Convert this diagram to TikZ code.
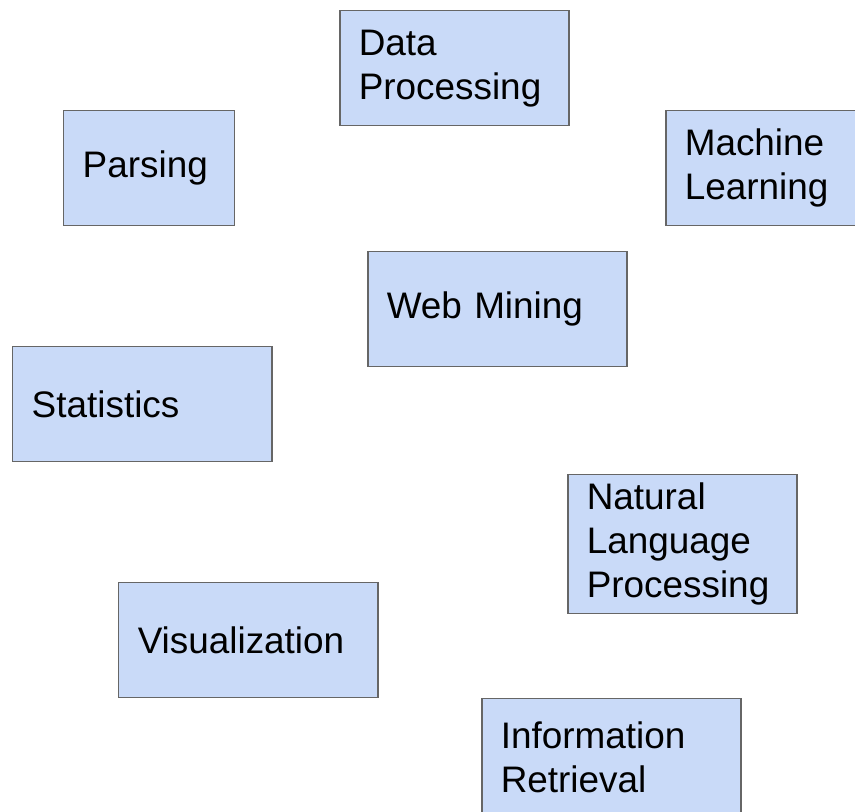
\documentclass[tikz,border=0pt]{standalone}
\usepackage{fontspec}
\setmainfont{Liberation Sans}
\usepackage{tikz}
\usetikzlibrary{calc}
\definecolor{boxfill}{HTML}{C9DAF8}
\definecolor{boxline}{HTML}{666666}
\tikzset{
  topic/.style={draw=boxline, fill=boxfill, line width=.85pt, rectangle, anchor=north west,
    inner xsep=.38cm, inner ysep=0pt, align=left, minimum height=2.3cm,
    font=\fontsize{21}{25}\selectfont},
  wide/.style={text width=4.42cm},
  mid/.style={text width=3.82cm},
  narrow/.style={text width=2.66cm}
}

\begin{document}
\begin{tikzpicture}
            \useasboundingbox (0,0) rectangle (17.1,16.22); %page size
            \clip (0,0) rectangle (17.1,16.22);

            % top row
            \node (data) [topic, mid] at (6.78,16.02) {Data\\Processing};
            \node (pars) [topic, narrow] at (1.26,14.02) {Parsing};
            \node (mach) [topic, mid] at (13.3,14.02) {Machine\\Learning};

            % middle
            \node (web) [topic, wide] at (7.34,11.2) {Web Mining};
            \node (stat) [topic, wide] at (0.24,9.3) {Statistics};
            \node (nlp) [topic, mid, minimum height=2.78cm] at (11.34,6.74) {Natural\\Language\\Processing};

            % bottom row
            \node (vis) [topic, wide] at (2.36,4.58) {Visualization};
            \node (info) [topic, wide, minimum height=2.36cm] at (9.62,2.26) {Information\\Retrieval};

\end{tikzpicture}
\end{document}
